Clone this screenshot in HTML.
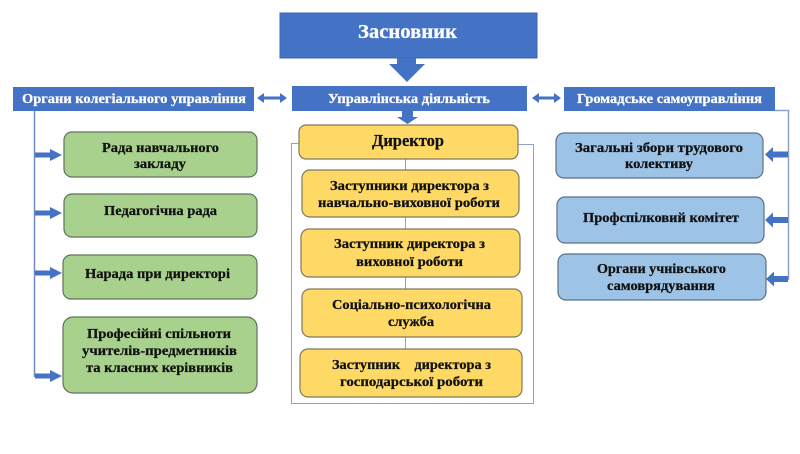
<!DOCTYPE html>
<html><head><meta charset="utf-8"><style>
html,body{margin:0;padding:0;background:#fff;}
svg{display:block;}
text{font-family:"Liberation Serif",serif;font-weight:bold;}
</style></head><body>
<svg width="800" height="454" viewBox="0 0 800 454" xmlns="http://www.w3.org/2000/svg">
<rect width="800" height="454" fill="#fff"/>
<!-- Засновник -->
<rect x="280" y="13" width="257" height="45" fill="#4472C4" stroke="#3d64ad" stroke-width="1"/>
<text x="407.5" y="38" font-size="20" fill="#fff" stroke="#fff" stroke-width="0.3" text-anchor="middle" textLength="99" lengthAdjust="spacingAndGlyphs">Засновник</text>
<!-- big arrow -->
<polygon points="397,58 416,58 416,64 425,64 407,82 389,64 397,64" fill="#4472C4"/>
<!-- Управлінська діяльність -->
<rect x="292" y="86" width="235" height="25" fill="#4472C4"/>
<text x="409" y="103" font-size="14" fill="#fff" stroke="#fff" stroke-width="0.25" text-anchor="middle" textLength="162" lengthAdjust="spacingAndGlyphs">Управлінська діяльність</text>
<!-- small arrow -->
<polygon points="402,111 413,111 413,117 418,117 407.5,124 397,117 402,117" fill="#4472C4"/>
<!-- left header -->
<rect x="13" y="87" width="241" height="24" fill="#4472C4"/>
<text x="134" y="103" font-size="14" fill="#fff" stroke="#fff" stroke-width="0.25" text-anchor="middle" textLength="224" lengthAdjust="spacingAndGlyphs">Органи колегіального управління</text>
<!-- right header -->
<rect x="564" y="87" width="211" height="24" fill="#4472C4"/>
<text x="669.5" y="103" font-size="14" fill="#fff" stroke="#fff" stroke-width="0.25" text-anchor="middle" textLength="185" lengthAdjust="spacingAndGlyphs">Громадське самоуправління</text>
<!-- double arrows -->
<polygon points="257,98 264,93 264,96.5 280,96.5 280,93 287,98 280,103 280,99.5 264,99.5 264,103" fill="#4472C4"/>
<polygon points="532,98 539,93 539,96.5 554,96.5 554,93 561,98 554,103 554,99.5 539,99.5 539,103" fill="#4472C4"/>

<!-- left vertical line -->
<line x1="34.5" y1="111" x2="34.5" y2="377" stroke="#6F8DC4" stroke-width="1.5"/>
<!-- left arrows -->
<g fill="#4472C4">
<polygon points="35,152.5 50,152.5 50,149 62,155 50,161 50,157.5 35,157.5"/>
<polygon points="35,210.5 50,210.5 50,207 62,213 50,219 50,215.5 35,215.5"/>
<polygon points="35,270.5 50,270.5 50,267 62,273 50,279 50,275.5 35,275.5"/>
<polygon points="35,373.5 50,373.5 50,370 62,376 50,382 50,378.5 35,378.5"/>
</g>
<!-- green boxes -->
<g fill="#A9D18E" stroke="#5E7358" stroke-width="1.2">
<rect x="64" y="132" width="193" height="45" rx="8"/>
<rect x="64" y="194" width="193" height="43" rx="8"/>
<rect x="63" y="255" width="194" height="44" rx="8"/>
<rect x="63" y="317" width="194" height="76" rx="10"/>
</g>
<g font-size="14" fill="#111" stroke="#111" stroke-width="0.25" text-anchor="middle">
<text x="160.5" y="152" textLength="117" lengthAdjust="spacingAndGlyphs">Рада навчального</text>
<text x="160" y="168" textLength="52" lengthAdjust="spacingAndGlyphs">закладу</text>
<text x="160.5" y="215" textLength="113" lengthAdjust="spacingAndGlyphs">Педагогічна рада</text>
<text x="157.5" y="278" textLength="145" lengthAdjust="spacingAndGlyphs">Нарада при директорі</text>
<text x="159" y="338" textLength="144" lengthAdjust="spacingAndGlyphs">Професійні спільноти</text>
<text x="159.5" y="355" textLength="155" lengthAdjust="spacingAndGlyphs">учителів-предметників</text>
<text x="159.5" y="372" textLength="147" lengthAdjust="spacingAndGlyphs">та класних керівників</text>
</g>

<!-- center container frame -->
<g stroke="#8FA3C5" stroke-width="1" fill="none">
<polyline points="299,143.5 291.5,143.5 291.5,403.5 533.5,403.5 533.5,144.5 518,144.5"/>
<line x1="405.5" y1="159" x2="405.5" y2="349"/>
</g>
<!-- yellow boxes -->
<g fill="#FFD966" stroke="#7F7A5E" stroke-width="1.2">
<rect x="299" y="125" width="219" height="34" rx="7"/>
<rect x="302" y="170" width="217" height="47" rx="8"/>
<rect x="301" y="229" width="219" height="48" rx="8"/>
<rect x="302" y="289" width="220" height="48" rx="8"/>
<rect x="300" y="349" width="222" height="48" rx="8"/>
</g>
<g font-size="14" fill="#111" stroke="#111" stroke-width="0.25" text-anchor="middle">
<text x="408" y="146" font-size="17" textLength="72" lengthAdjust="spacingAndGlyphs">Директор</text>
<text x="409.5" y="190" textLength="159" lengthAdjust="spacingAndGlyphs">Заступники директора з</text>
<text x="409" y="207" textLength="182" lengthAdjust="spacingAndGlyphs">навчально-виховної роботи</text>
<text x="409.5" y="248" textLength="151" lengthAdjust="spacingAndGlyphs">Заступник директора з</text>
<text x="409.5" y="266" textLength="107" lengthAdjust="spacingAndGlyphs">виховної роботи</text>
<text x="411.5" y="309" textLength="159" lengthAdjust="spacingAndGlyphs">Соціально-психологічна</text>
<text x="411" y="326" textLength="46" lengthAdjust="spacingAndGlyphs">служба</text>
<text x="411.5" y="369" textLength="159" lengthAdjust="spacingAndGlyphs" xml:space="preserve">Заступник    директора з</text>
<text x="411.5" y="386" textLength="143" lengthAdjust="spacingAndGlyphs">господарської роботи</text>
</g>

<!-- right line -->
<polyline points="775,110.5 788.5,110.5 788.5,280" stroke="#8FA3C5" stroke-width="1.5" fill="none"/>
<g fill="#4472C4">
<polygon points="788,151.5 773,151.5 773,147 765,154.5 773,162 773,157.5 788,157.5"/>
<polygon points="788,217 773,217 773,212.5 765,220 773,227.5 773,223 788,223"/>
<polygon points="788,276 774,276 774,271.5 766,279 774,286.5 774,282 788,282"/>
</g>
<!-- blue boxes -->
<g fill="#9DC3E6" stroke="#5C7087" stroke-width="1.2">
<rect x="556" y="133" width="207" height="45" rx="8"/>
<rect x="557" y="197" width="207" height="46" rx="8"/>
<rect x="558" y="254" width="208" height="46" rx="8"/>
</g>
<g font-size="14" fill="#111" stroke="#111" stroke-width="0.25" text-anchor="middle">
<text x="659" y="152" textLength="168" lengthAdjust="spacingAndGlyphs">Загальні збори трудового</text>
<text x="659" y="168" textLength="68" lengthAdjust="spacingAndGlyphs">колективу</text>
<text x="661" y="222" textLength="156" lengthAdjust="spacingAndGlyphs">Профспілковий комітет</text>
<text x="661.5" y="273" textLength="129" lengthAdjust="spacingAndGlyphs">Органи учнівського</text>
<text x="661" y="290" textLength="108" lengthAdjust="spacingAndGlyphs">самоврядування</text>
</g>
</svg>
</body></html>
